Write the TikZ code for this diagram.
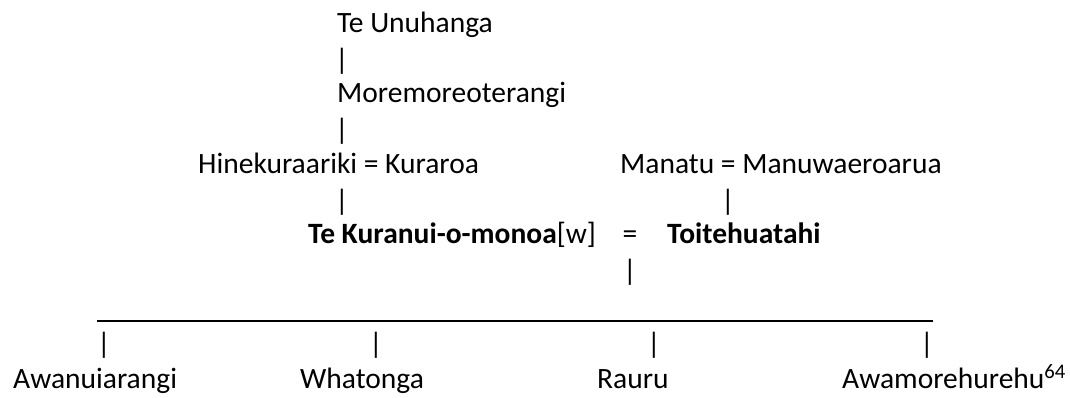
\documentclass[tikz,border=0pt]{standalone}
\usepackage{fontspec}
\setmainfont{Carlito}
\usetikzlibrary{positioning}

\begin{document}
\begin{tikzpicture}[
    x=1pt, y=-1pt,
    person/.style={anchor=base west, inner sep=0pt, font=\fontsize{29.5}{35}\selectfont},
    bar/.style={anchor=center, inner sep=0pt, font=\fontsize{29.5}{35}\selectfont},
    rule/.style={line width=2pt},
]
\useasboundingbox (0,0) rectangle (1070,397);

% Ancestors
\node[person] (unuhanga) at (337,32) {Te Unuhanga};
\node[bar] (b1) at (342,61) {|};
\node[person] (moremore) at (337,102.5) {Moremoreoterangi};
\node[bar] (b2) at (342,131.5) {|};
\node[person] (hine) at (198,173) {Hinekuraariki = Kuraroa};
\node[person] (manatu) at (620,173) {Manatu = Manuwaeroarua};
\node[bar] (b3) at (342,202) {|};
\node[bar] (b4) at (728,202) {|};

% Couple
\node[person] (kuranui) at (308,243.5) {\textbf{Te Kuranui-o-monoa}[w]};
\node[person, anchor=base] (eq) at (630,243.5) {=};
\node[person] (toite) at (667,243.5) {\textbf{Toitehuatahi}};
\node[bar] (b5) at (630,272.5) {|};

% Children
\coordinate (rowL) at (97,321);
\coordinate (rowR) at (933,321);
\draw[rule] (rowL) -- (rowR);

\node[bar] (c1) at (104,345) {|};
\node[bar] (c2) at (376,345) {|};
\node[bar] (c3) at (654,345) {|};
\node[bar] (c4) at (927,345) {|};

\node[person] (awanui) at (13,388) {Awanuiarangi};
\node[person] (whatonga) at (300,388) {Whatonga};
\node[person] (rauru) at (597,388) {Rauru};
\node[person] (awamore) at (842,388) {Awamorehurehu\textsuperscript{64}};
\end{tikzpicture}
\end{document}
